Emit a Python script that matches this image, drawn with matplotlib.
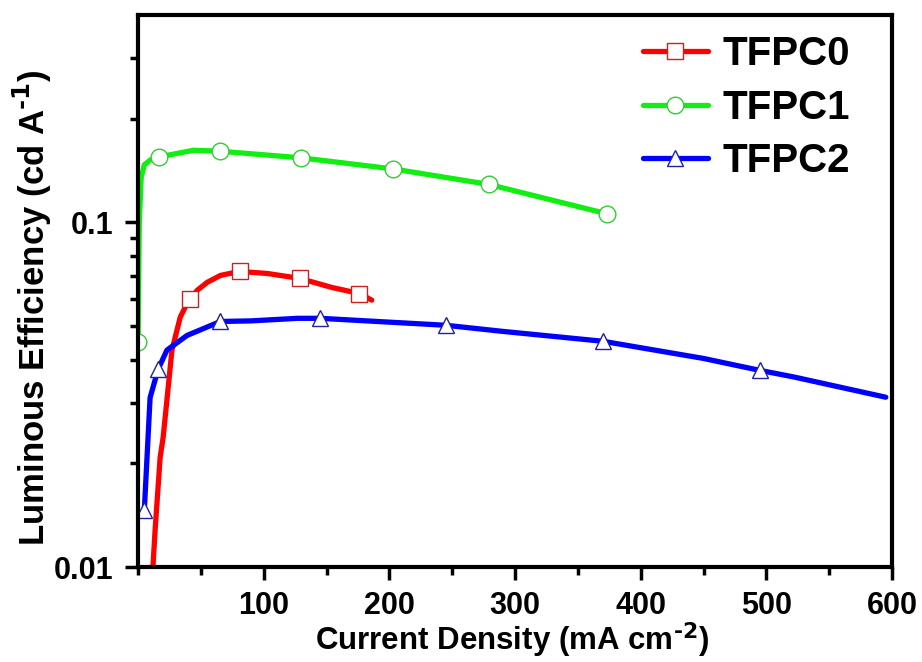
import matplotlib.pyplot as plt
from matplotlib.ticker import FixedLocator, NullFormatter, MultipleLocator

plt.rcParams['font.family'] = ['Liberation Sans', 'DejaVu Sans']
plt.rcParams['font.weight'] = 'bold'
plt.rcParams['mathtext.default'] = 'bf'

# TFPC0 curve + markers
x0 = [11.5, 13.6, 17.6, 20, 27, 33.6, 38, 41.6, 47, 55, 65.6, 80.8, 103, 128.8, 154, 176, 186]
y0 = [0.0095, 0.0128, 0.0208, 0.0238, 0.0426, 0.0531, 0.0572, 0.0598, 0.0635, 0.067, 0.0702, 0.0721, 0.0711, 0.0688, 0.0648, 0.0622, 0.0595]
x0_mk = [41.6, 80.8, 128.8, 176]
y0_mk = [0.0598, 0.0721, 0.0688, 0.0622]

# TFPC1
x1 = [0, 1, 2.5, 5, 10, 17, 44, 65, 130, 203, 279, 373]
y1 = [0.045, 0.10, 0.135, 0.147, 0.152, 0.155, 0.162, 0.161, 0.154, 0.143, 0.129, 0.106]
x1_mk = [0, 17, 65, 130, 203, 279, 373]
y1_mk = [0.045, 0.155, 0.161, 0.154, 0.143, 0.129, 0.106]

# TFPC2
x2 = [5, 9.6, 16, 23, 39, 65.6, 90, 127, 145, 245, 290, 370, 450, 495, 522, 595]
y2 = [0.0146, 0.031, 0.0375, 0.0426, 0.047, 0.0516, 0.0518, 0.0527, 0.0527, 0.0503, 0.0483, 0.0452, 0.0403, 0.0372, 0.0356, 0.0311]
x2_mk = [5, 16, 65.6, 145, 245, 370, 495]
y2_mk = [0.0146, 0.0375, 0.0516, 0.0527, 0.0503, 0.0452, 0.0372]

fig = plt.figure(figsize=(9.22, 6.62), dpi=100)
ax = fig.add_axes([0.1497, 0.1435, 0.8178, 0.8338])

series = [
    ("TFPC0", x0, y0, x0_mk, y0_mk, '#ff0000', '#cc2020', 's'),
    ("TFPC1", x1, y1, x1_mk, y1_mk, '#11ee11', '#33cc33', 'o'),
    ("TFPC2", x2, y2, x2_mk, y2_mk, '#0000ff', '#2020a0', '^'),
]
for name, x, y, xm, ym, c, ec, m in series:
    ax.plot(x, y, color=c, lw=3.8, solid_capstyle='round', solid_joinstyle='round')
    ax.plot(xm, ym, ls='none', marker=m, ms=12, mfc='white', mec=ec, mew=1.0)
    # legend proxy
    ax.plot([], [], color=c, lw=3.8, marker=m, ms=12, mfc='white', mec=ec, mew=1.0,
            solid_capstyle='round', label=name)

ax.set_yscale('log')
ax.set_xlim(0, 600)
ax.set_ylim(0.01, 0.4)

ax.xaxis.set_major_locator(FixedLocator([100, 200, 300, 400, 500, 600]))
ax.xaxis.set_minor_locator(MultipleLocator(50))
ax.yaxis.set_major_locator(FixedLocator([0.01, 0.1]))
ax.yaxis.set_major_formatter(plt.FixedFormatter(['0.01', '0.1']))
ax.yaxis.set_minor_locator(FixedLocator([0.02, 0.03, 0.04, 0.05, 0.06, 0.07, 0.08, 0.09, 0.2, 0.3]))
ax.yaxis.set_minor_formatter(NullFormatter())

ax.tick_params(which='major', direction='out', length=9.5, width=2.5, labelsize=22, pad=8)
ax.tick_params(which='minor', direction='out', length=6, width=2.5)
for s in ax.spines.values():
    s.set_linewidth(3)

ax.set_xlabel(r'Current Density (mA cm$^{\text{-2}}$)', fontsize=22.5, fontweight='bold')
ax.xaxis.set_label_coords(0.496, -0.097)
ax.set_ylabel(r'Luminous Efficiency (cd A$^{\text{-1}}$)', fontsize=25, fontweight='bold')
ax.yaxis.set_label_coords(-0.112, 0.47)

leg = ax.legend(loc='upper left', bbox_to_anchor=(0.67, 0.963), frameon=False,
                fontsize=29, handlelength=1.6, handletextpad=0.38, labelspacing=0.38,
                borderpad=0, borderaxespad=0)

fig.savefig('out.png', dpi=100)
